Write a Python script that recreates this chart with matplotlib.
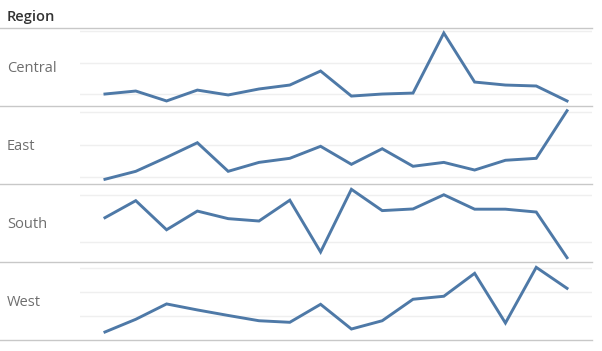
"""
Region sparklines: quarterly sales (K) per region, Tableau-style small multiples.
"""
import matplotlib
matplotlib.use("Agg")
import matplotlib.pyplot as plt
from matplotlib.lines import Line2D

plt.rcParams["font.family"] = ["Open Sans", "DejaVu Sans"]

# ── data ────────────────────────────────────────────────────────────────────
regions = ["Central", "East", "South", "West"]
quarters = list(range(16))

central = [20.0, 21.9, 15.6, 22.5, 19.4, 23.2, 25.7, 34.6,
           18.7, 20.0, 20.6, 58.7, 27.6, 25.7, 25.1, 15.6]
east = [18.8, 23.7, 32.3, 41.3, 23.7, 29.2, 31.7, 39.1,
        28.0, 37.6, 26.8, 29.2, 24.5, 30.5, 31.7, 61.0]
south = [30.4, 37.6, 25.3, 33.2, 30.0, 29.0, 37.8, 15.9,
         42.4, 33.4, 34.1, 40.1, 34.0, 34.0, 32.8, 13.5]
west = [6.9, 17.5, 30.3, 25.3, 20.7, 16.3, 15.0, 30.0,
        9.4, 16.3, 34.2, 36.7, 55.8, 14.4, 60.8, 43.3]

series = [central, east, south, west]
y_ranges = [(12.4, 61.9), (15.9, 63.9), (11.67, 44.65), (0.25, 65.25)]
y_grids = [[20, 40, 60], [20, 40, 60], [20, 40], [20, 40, 60]]

# ── style ───────────────────────────────────────────────────────────────────
LINE = "#4e79a7"
SEP = "#c8c8c8"
GRID = "#efefef"
LABEL = "#6e6e6e"

W, H = 602, 351
HEAD = 28      # header line (px from top)
ROW_H = 78     # row height (px)
PANE_L, PANE_R = 80, 592

fig = plt.figure(figsize=(W / 100, H / 100), dpi=100)

fig.text(7 / W, 1 - 17 / H, "Region", fontsize=10.5, color="#333333",
         fontweight="semibold", va="center", ha="left")

def hline(y_px):
    y = 1 - y_px / H
    fig.add_artist(Line2D([0, PANE_R / W], [y, y], color=SEP, lw=1.0))

hline(HEAD)

for i, (name, vals) in enumerate(zip(regions, series)):
    top = HEAD + i * ROW_H
    ax = fig.add_axes([PANE_L / W, 1 - (top + ROW_H) / H,
                       (PANE_R - PANE_L) / W, ROW_H / H])
    ax.plot(quarters, vals, color=LINE, lw=2.1, solid_joinstyle="miter",
            zorder=3)
    ax.set_xlim(-0.81, 15.81)
    ax.set_ylim(*y_ranges[i])
    ax.set_yticks(y_grids[i])
    ax.set_xticks([])
    ax.yaxis.grid(True, color=GRID, lw=1.0)
    ax.tick_params(left=False, labelleft=False)
    for s in ax.spines.values():
        s.set_visible(False)
    ax.set_facecolor("none")

    fig.text(7 / W, 1 - (top + ROW_H / 2 + 1) / H, name, fontsize=10.5,
             color=LABEL, va="center", ha="left")
    hline(top + ROW_H)

fig.savefig("out.png", dpi=100)
